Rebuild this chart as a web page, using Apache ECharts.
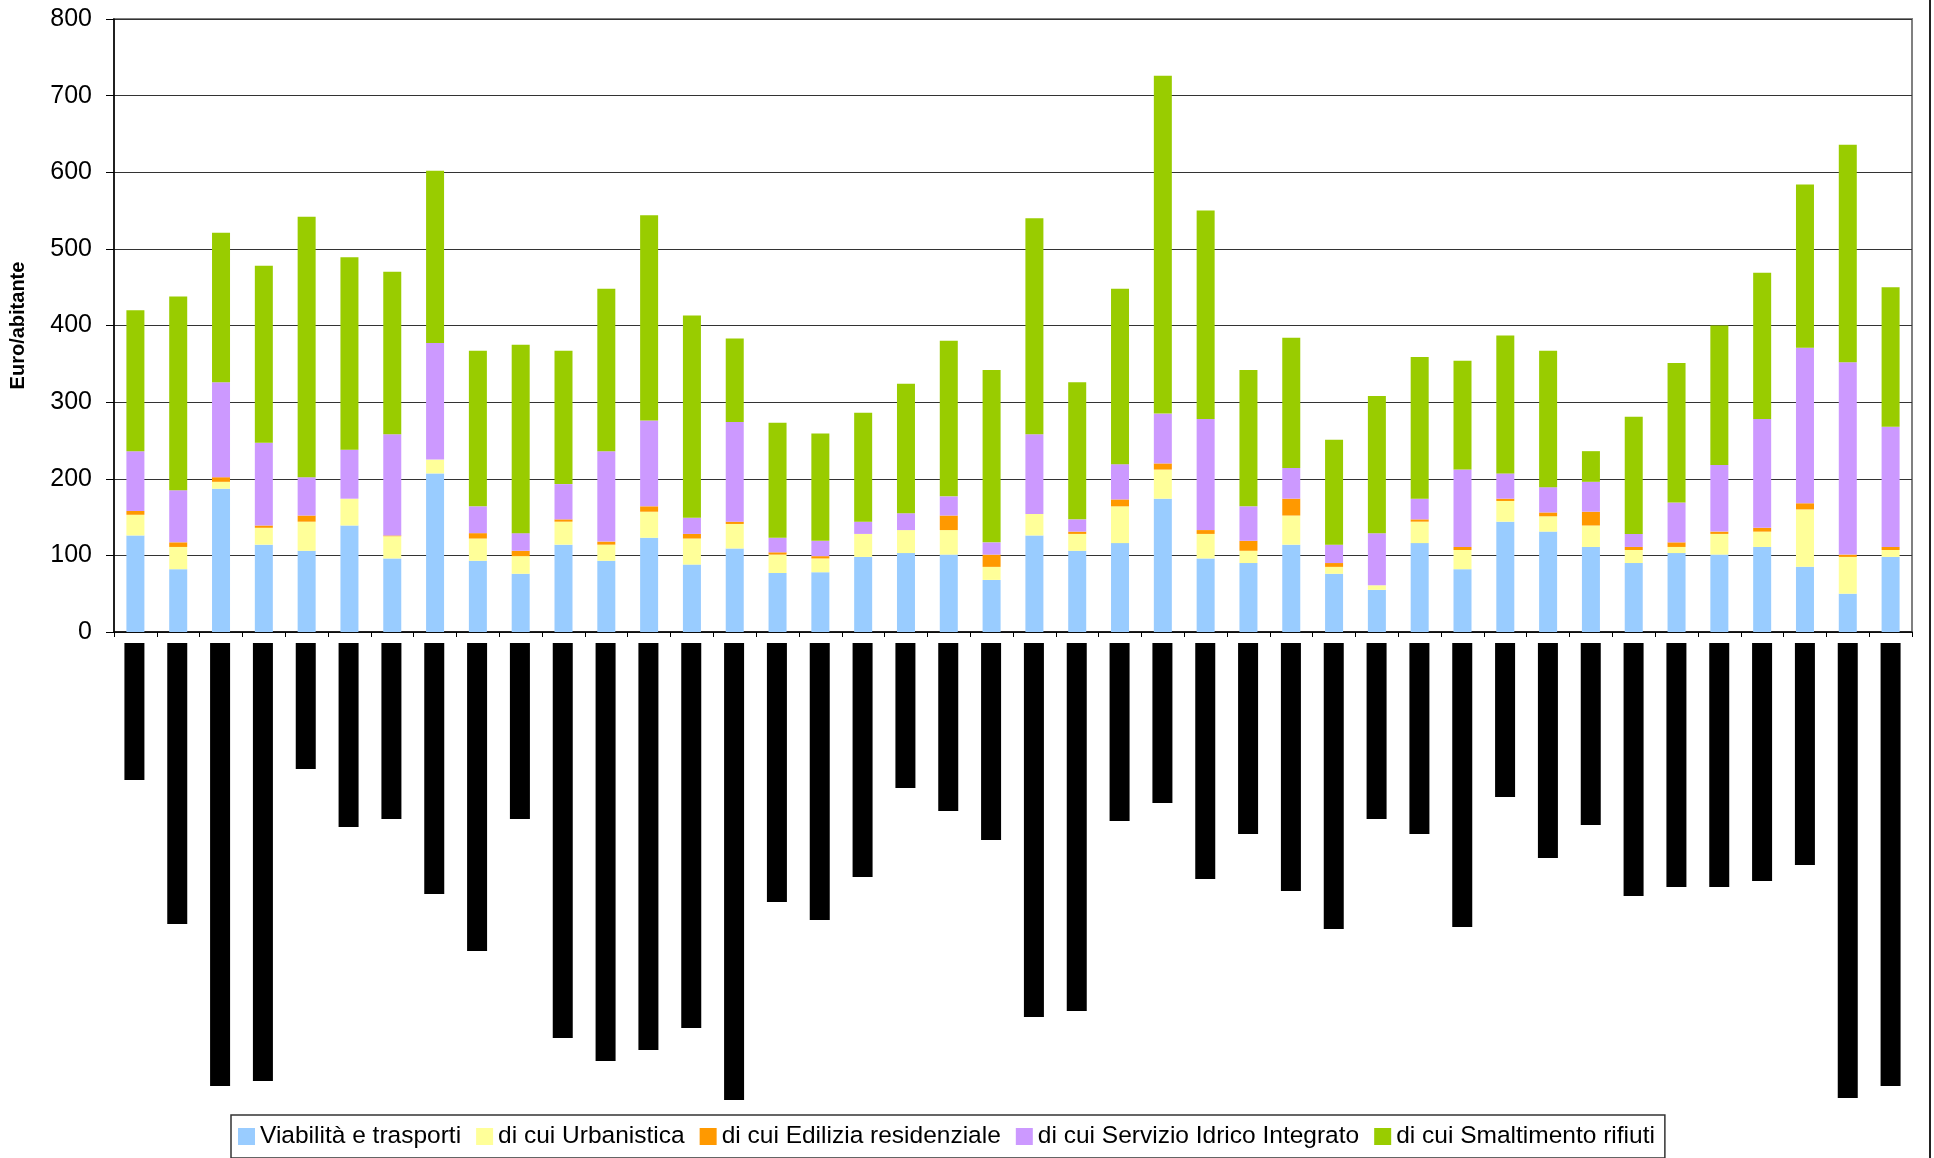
<!DOCTYPE html>
<html>
<head>
<meta charset="utf-8">
<script src="https://cdn.jsdelivr.net/npm/echarts@6/dist/echarts.min.js"></script>
<style>
html,body{margin:0;padding:0;background:#fff;}
#chart{width:1934px;height:1158px;}
</style>
</head>
<body>
<div id="chart"></div>
<script>
var categories = ['1','2','3','4','5','6','7','8','9','10','11','12','13','14','15','16','17','18','19','20','21','22','23','24','25','26','27','28','29','30','31','32','33','34','35','36','37','38','39','40','41','42'];
var viabilita = [126,82,187,114,106,139,96,207,93,76,114,93,123,88,109,77,78,98,103,101,68,126,106,116,174,96,90,114,76,55,116,82,144,131,111,90,103,101,111,85,50,98];
var urbanistica = [27,29,9,22,38,35,29,18,29,23,30,21,34,34,32,24,18,30,30,32,17,28,22,48,38,32,16,38,9,6,28,25,27,20,28,17,8,27,20,75,48,9];
var edilizia = [5,6,6,3,8,0,1,0,7,7,3,4,7,6,3,3,3,0,0,19,16,0,3,9,8,5,13,22,5,0,3,4,3,5,18,4,6,3,5,8,3,4];
var idrico = [78,68,124,108,50,64,132,152,35,23,46,118,112,21,130,19,20,16,22,25,16,104,16,46,65,145,45,40,24,68,27,101,33,33,39,17,52,87,142,203,251,157];
var rifiuti = [184,253,195,231,340,251,212,225,203,246,174,212,268,264,109,150,140,142,169,203,225,282,179,229,441,272,178,170,137,179,185,142,180,178,40,153,182,182,191,213,284,182];
// lengths of the black (rotated, blacked-out) category label blocks below the axis
var labelBars = [137,281,443,438,126,184,176,251,308,176,395,418,407,385,457,259,277,234,145,168,197,374,368,178,160,236,191,248,286,176,191,284,154,215,182,253,244,244,238,222,455,443];
var yTicks = [0,100,200,300,400,500,600,700,800];

var seriesNames = ['Viabilità e trasporti','di cui Urbanistica','di cui Edilizia residenziale','di cui Servizio Idrico Integrato','di cui Smaltimento rifiuti'];
var seriesData = [viabilita, urbanistica, edilizia, idrico, rifiuti];
var colors = ['#99CCFF','#FFFF99','#FF9900','#CC99FF','#99CC00'];

var FONT = '"Liberation Sans", Arial, sans-serif';
var chart = echarts.init(document.getElementById('chart'), null, {renderer:'canvas'});

var series = seriesNames.map(function(n,i){
  return {
    name:n, type:'bar', stack:'tot', xAxisIndex:0, yAxisIndex:0,
    data: seriesData[i], barWidth:18, itemStyle:{color:colors[i]},
    emphasis:{disabled:true}, animation:false
  };
});
series.push({
  name:'labels', type:'bar', xAxisIndex:1, yAxisIndex:1,
  data: labelBars, barWidth:20, itemStyle:{color:'#000'},
  emphasis:{disabled:true}, animation:false, legendHoverLink:false
});

chart.setOption({
  backgroundColor:'#fff',
  animation:false,
  grid:[
    {left:113, right:22, top:19, height:613, show:true, borderColor:'#808080', borderWidth:2, backgroundColor:'transparent'},
    {left:113, right:22, top:643, height:460}
  ],
  legend:{
    data: seriesNames,
    left:231, top:1115,
    orient:'horizontal',
    itemWidth:17, itemHeight:17, itemGap:15,
    icon:'rect',
    padding:[9,10,9,7],
    borderColor:'#333', borderWidth:1.5,
    textStyle:{fontFamily:FONT, fontSize:24.5, color:'#000', padding:[0,0,0,0]},
    selectedMode:false
  },
  xAxis:[
    {type:'category', gridIndex:0, data:categories,
     axisLine:{show:true, lineStyle:{color:'#000', width:1.5}},
     axisTick:{show:true, length:5, lineStyle:{color:'#000'}},
     axisLabel:{show:false}, splitLine:{show:false}},
    {type:'category', gridIndex:1, data:categories, show:false}
  ],
  yAxis:[
    {type:'value', gridIndex:0, min:0, max:800, interval:100,
     name:'Euro/abitante', nameLocation:'middle', nameGap:86, nameRotate:90,
     nameTextStyle:{fontFamily:FONT, fontSize:20, fontWeight:'bold', color:'#000'},
     axisLine:{show:true, lineStyle:{color:'#000', width:1.5}},
     axisTick:{show:true, length:8, inside:false, lineStyle:{color:'#000'}},
     axisLabel:{fontFamily:FONT, fontSize:25, color:'#000', margin:22,
       formatter:function(v){ return yTicks.indexOf(v)>=0 ? String(v) : ''; }},
     splitLine:{show:true, lineStyle:{color:'#333', width:1.2}}},
    {type:'value', gridIndex:1, min:0, max:460, inverse:true, show:false}
  ],
  graphic:[
    {type:'line', shape:{x1:1930, y1:0, x2:1930, y2:1158}, style:{stroke:'#222', lineWidth:2}, silent:true}
  ],
  series: series
});
</script>
</body>
</html>
